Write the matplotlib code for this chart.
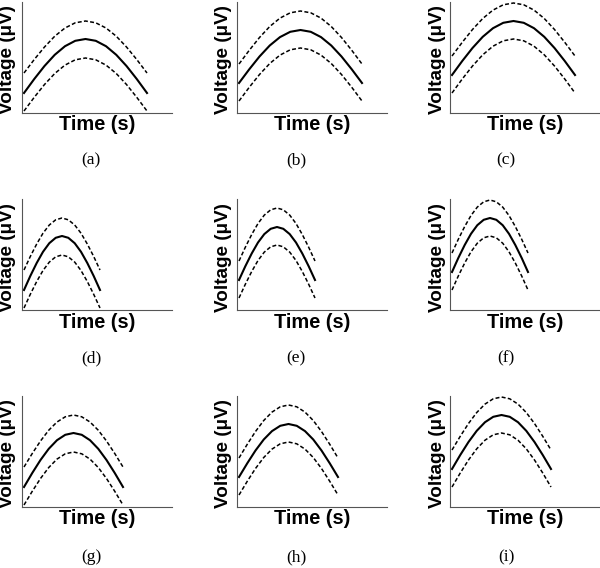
import matplotlib
matplotlib.use('Agg')
import matplotlib.pyplot as plt

W, H = 600, 568

# sample times for each row (arb. units, axis spans 0..150)
time_row1 = [2, 12.25, 22.5, 32.75, 43, 53.25, 63.5, 73.75, 84, 94.25, 104.5, 114.75, 125]
time_row2 = [2, 8.3, 14.7, 21, 27.3, 33.7, 40, 46.3, 52.7, 59, 65.3, 71.7, 78]
time_row3 = [2, 10.25, 18.5, 26.75, 35, 43.25, 51.5, 59.75, 68, 76.25, 84.5, 92.75, 101]

# voltage for each column (arb. units, axis spans 0..111)
mean_col1 = [20, 34.0, 47.0, 58.2, 66.8, 72.2, 74, 72.2, 66.8, 58.2, 47.0, 34.0, 20]
upper_col1 = [40, 53.5, 66.0, 76.8, 85.0, 90.2, 92, 90.2, 85.0, 76.8, 66.0, 53.5, 40]
lower_col1 = [2, 15.7, 28.5, 39.5, 47.9, 53.2, 55, 53.2, 47.9, 39.5, 28.5, 15.7, 2]

mean_col2 = [30, 43.7, 56.5, 67.5, 75.9, 81.2, 83, 81.2, 75.9, 67.5, 56.5, 43.7, 30]
upper_col2 = [49, 62.7, 75.5, 86.5, 94.9, 100.2, 102, 100.2, 94.9, 86.5, 75.5, 62.7, 49]
lower_col2 = [12, 25.7, 38.5, 49.5, 57.9, 63.2, 65, 63.2, 57.9, 49.5, 38.5, 25.7, 12]

mean_col3 = [38, 52.0, 65.0, 76.2, 84.8, 90.2, 92, 90.2, 84.8, 76.2, 65.0, 52.0, 38]
upper_col3 = [57, 70.7, 83.5, 94.5, 102.9, 108.2, 110, 108.2, 102.9, 94.5, 83.5, 70.7, 57]
lower_col3 = [20, 34.0, 47.0, 58.2, 66.8, 72.2, 74, 72.2, 66.8, 58.2, 47.0, 34.0, 20]

times = [time_row1, time_row2, time_row3]
cols = [(mean_col1, upper_col1, lower_col1),
        (mean_col2, upper_col2, lower_col2),
        (mean_col3, upper_col3, lower_col3)]
panel_names = [['(a)', '(b)', '(c)'], ['(d)', '(e)', '(f)'], ['(g)', '(h)', '(i)']]

# layout in pixels
col_left = [22, 237, 450]
ax_w = 150
row_top = [2, 199, 396]
ax_h = 111
ylab_x = [8, 223, 437]
name_x = [91, 296, 506]
name_y = [160, 358, 557]

fig = plt.figure(figsize=(W / 100, H / 100), dpi=100)

for r in range(3):
    for c in range(3):
        x0 = col_left[c]
        y0 = row_top[r]
        ax = fig.add_axes([x0 / W, 1 - (y0 + ax_h) / H, ax_w / W, ax_h / H])
        mean, upper, lower = cols[c]
        t = times[r]
        ax.plot(t, upper, color='black', lw=1.1, linestyle=(0, (2.6, 1.5)))
        ax.plot(t, mean, color='black', lw=1.5)
        ax.plot(t, lower, color='black', lw=1.1, linestyle=(0, (2.6, 1.5)))
        ax.set_xlim(0, 150)
        ax.set_ylim(0, 111)
        ax.set_xticks([])
        ax.set_yticks([])
        for s in ['top', 'right']:
            ax.spines[s].set_visible(False)
        for s in ['left', 'bottom']:
            ax.spines[s].set_color('#555555')
            ax.spines[s].set_linewidth(0.8)

        fig.text(ylab_x[c] / W, 1 - (y0 + 58) / H, 'Voltage (μV)',
                 rotation=90, ha='center', va='center',
                 family='Liberation Sans', fontweight='bold', fontsize=13.6)
        fig.text((x0 + ax_w / 2) / W, 1 - (y0 + ax_h + 12) / H, 'Time (s)',
                 ha='center', va='center',
                 family='Liberation Sans', fontweight='bold', fontsize=14.4)
        fig.text(name_x[c] / W, 1 - name_y[r] / H, panel_names[r][c],
                 ha='center', va='center', family='Liberation Serif', fontsize=12.5)

fig.savefig('out.png', dpi=100)
